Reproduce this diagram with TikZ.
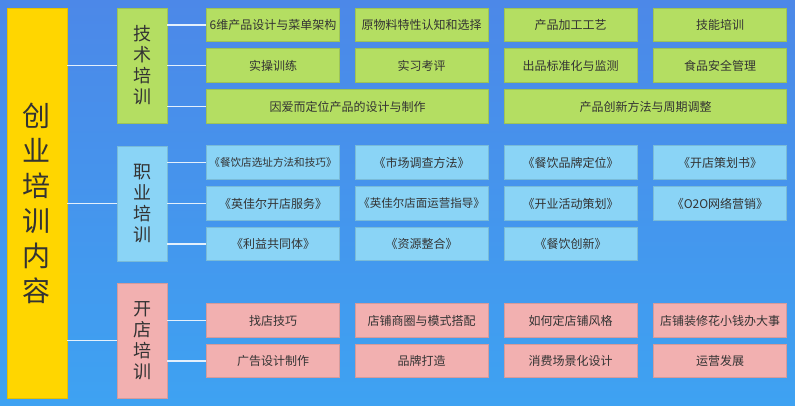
\documentclass[tikz,border=0pt]{standalone}
\usepackage{fontspec}
\setmainfont{Noto Sans CJK SC}
\usetikzlibrary{positioning}
\definecolor{bgtop}{RGB}{76,136,232}
\definecolor{bgbottom}{RGB}{62,162,242}
\definecolor{mainyellow}{RGB}{255,214,0}
\definecolor{techgreen}{RGB}{180,222,98}
\definecolor{jobblue}{RGB}{138,212,246}
\definecolor{shoppink}{RGB}{242,176,176}
\definecolor{textgray}{RGB}{51,51,51}
\definecolor{linkwhite}{RGB}{228,240,252}

\begin{document}
\begin{tikzpicture}[
  x=1pt, y=-1pt,
  box/.style={inner sep=0pt, align=center, text=textgray, line width=0.8pt},
  mainbox/.style={box, fill=mainyellow, draw=mainyellow!90!black,
    minimum width=60pt, minimum height=390pt,
    font=\fontsize{28}{35}\selectfont},
  groupbox/.style={box, minimum width=50pt, minimum height=115pt,
    font=\fontsize{18}{21}\selectfont},
  item/.style={box, minimum width=133pt, minimum height=33.5pt,
    font=\fontsize{12}{14}\selectfont},
  wide/.style={item, minimum width=282pt},
  tecbox/.style={fill=techgreen, draw=techgreen!88!black},
  jobbox/.style={fill=jobblue, draw=jobblue!88!black},
  shopbox/.style={fill=shoppink, draw=shoppink!88!black},
  link/.style={draw=linkwhite, line width=1.2pt}
]
  % background
  \fill[top color=bgtop, bottom color=bgbottom] (0,0) rectangle (795,405);

  \node[mainbox] (main) at (37,203) {创\\业\\培\\训\\内\\容};

  % technical training
  \node[groupbox, tecbox] (tech) at (142,65.5) {技\\术\\培\\训};
  \node[item, tecbox] (tecA) at (273,25) {6维产品设计与菜单架构};
  \node[item, tecbox] (tecB) at (421.5,25) {原物料特性认知和选择};
  \node[item, tecbox] (tecC) at (570.5,25) {产品加工工艺};
  \node[item, tecbox] (tecD) at (720,25) {技能培训};
  \node[item, tecbox] (tecE) at (273,65.5) {实操训练};
  \node[item, tecbox] (tecF) at (421.5,65.5) {实习考评};
  \node[item, tecbox] (tecG) at (570.5,65.5) {出品标准化与监测};
  \node[item, tecbox] (tecH) at (720,65.5) {食品安全管理};
  \node[wide, tecbox] (tecI) at (347.5,106.5) {因爱而定位产品的设计与制作};
  \node[wide, tecbox] (tecJ) at (645.5,106.5) {产品创新方法与周期调整};

  % job training
  \node[groupbox, jobbox] (job) at (142,203.5) {职\\业\\培\\训};
  \node[item, jobbox, font=\fontsize{10.6}{13}\selectfont] (jobA) at (273,162.5) {《餐饮店选址方法和技巧》};
  \node[item, jobbox] (jobB) at (421.5,162.5) {《市场调查方法》};
  \node[item, jobbox] (jobC) at (570.5,162.5) {《餐饮品牌定位》};
  \node[item, jobbox] (jobD) at (720,162.5) {《开店策划书》};
  \node[item, jobbox] (jobE) at (273,203.5) {《英佳尔开店服务》};
  \node[item, jobbox, font=\fontsize{11.5}{14}\selectfont] (jobF) at (421.5,203.5) {《英佳尔店面运营指导》};
  \node[item, jobbox] (jobG) at (570.5,203.5) {《开业活动策划》};
  \node[item, jobbox] (jobH) at (720,203.5) {《O2O网络营销》};
  \node[item, jobbox] (jobI) at (273,244) {《利益共同体》};
  \node[item, jobbox] (jobJ) at (421.5,244) {《资源整合》};
  \node[item, jobbox] (jobK) at (570.5,244) {《餐饮创新》};

  % shop opening training
  \node[groupbox, shopbox] (shop) at (142,340.5) {开\\店\\培\\训};
  \node[item, shopbox] (shopA) at (273,320.5) {找店技巧};
  \node[item, shopbox] (shopB) at (421.5,320.5) {店铺商圈与模式搭配};
  \node[item, shopbox] (shopC) at (570.5,320.5) {如何定店铺风格};
  \node[item, shopbox] (shopD) at (720,320.5) {店铺装修花小钱办大事};
  \node[item, shopbox] (shopE) at (273,361) {广告设计制作};
  \node[item, shopbox] (shopF) at (421.5,361) {品牌打造};
  \node[item, shopbox] (shopG) at (570.5,361) {消费场景化设计};
  \node[item, shopbox] (shopH) at (720,361) {运营发展};

  % connectors
  \draw[link] (main.east |- tech.west) -- (tech.west);
  \draw[link] (main.east |- job.west) -- (job.west);
  \draw[link] (main.east |- shop.west) -- (shop.west);
  \draw[link] (tech.east |- tecA.west) -- (tecA.west);
  \draw[link] (tech.east |- tecE.west) -- (tecE.west);
  \draw[link] (tech.east |- tecI.west) -- (tecI.west);
  \draw[link] (job.east |- jobA.west) -- (jobA.west);
  \draw[link] (job.east |- jobE.west) -- (jobE.west);
  \draw[link] (job.east |- jobI.west) -- (jobI.west);
  \draw[link] (shop.east |- shopA.west) -- (shopA.west);
  \draw[link] (shop.east |- shopE.west) -- (shopE.west);
\end{tikzpicture}
\end{document}
